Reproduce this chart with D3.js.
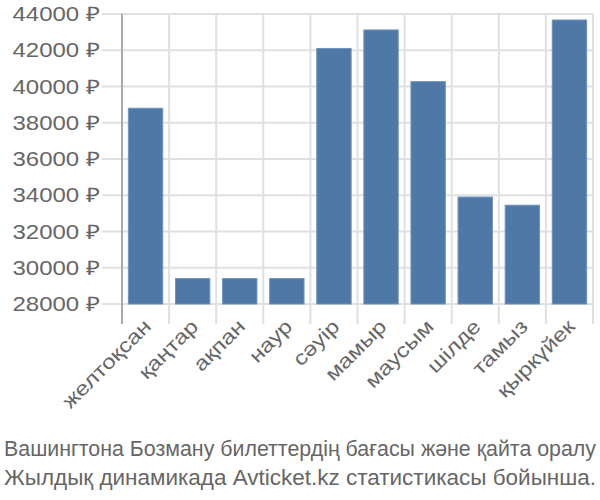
<!DOCTYPE html>
<html><head><meta charset="utf-8">
<script src="https://cdn.jsdelivr.net/npm/d3@7"></script>
<style>body{margin:0;background:#fff}svg{display:block}</style>
</head><body>
<svg id="c" width="600" height="500"></svg>
<script>
const categories = ["желтоқсан","қаңтар","ақпан","наур","сәуір","мамыр","маусым","шілде","тамыз","қыркүйек"];
const prices = [38800, 29400, 29400, 29400, 42100, 43120, 40270, 33900, 33450, 43670];
const yTicks = [28000, 30000, 32000, 34000, 36000, 38000, 40000, 42000, 44000];
const titleLines = ["Вашингтона Бозману билеттердің бағасы және қайта оралу", "Жылдық динамикада Avticket.kz статистикасы бойынша."];

(function () {
const svg = d3.select("#c");
const mLeft = 122, mRight = 593, mTop = 14, mBottom = 304;
const x = d3.scaleBand().domain(categories).range([mLeft, mRight]).padding(0);
const y = d3.scaleLinear().domain([28000, 44000]).range([mBottom, mTop]);

svg.append("g").selectAll("line").data(yTicks).join("line")
  .attr("x1", mLeft - 20).attr("x2", mRight)
  .attr("y1", d => y(d)).attr("y2", d => y(d))
  .attr("stroke", "#e0e0e0").attr("stroke-width", 2);

const edges = categories.map(c => x(c)).concat([mRight]);
svg.append("g").selectAll("line").data(edges.slice(1)).join("line")
  .attr("x1", d => d).attr("x2", d => d)
  .attr("y1", mTop).attr("y2", mBottom + 20)
  .attr("stroke", "#e0e0e0").attr("stroke-width", 2);

svg.append("line").attr("x1", mLeft).attr("x2", mLeft).attr("y1", mTop).attr("y2", mBottom + 20)
  .attr("stroke", "#aaa").attr("stroke-width", 2);

const inset = x.bandwidth() * 0.135;
svg.append("g").selectAll("rect").data(categories).join("rect")
  .attr("x", (d) => x(d) + inset)
  .attr("width", x.bandwidth() - 2 * inset)
  .attr("y", (d, i) => y(prices[i]))
  .attr("height", (d, i) => mBottom - y(prices[i]))
  .attr("fill", "#4e79a7").attr("stroke", "#6f93bd").attr("stroke-width", 1);

svg.append("g").selectAll("text").data(yTicks).join("text")
  .attr("transform", d => `translate(100,${y(d)}) scale(1.2,1)`)
  .attr("dy", "0.35em")
  .attr("text-anchor", "end")
  .attr("font-family", "Liberation Sans, Arial, sans-serif").attr("font-size", 20)
  .attr("fill", "#666")
  .text(d => d + " ₽");

svg.append("g").selectAll("text").data(categories).join("text")
  .attr("transform", d => `translate(${x(d) + x.bandwidth() / 2 + 6},${mBottom + 23}) rotate(-45) scale(1.2,1)`)
  .attr("text-anchor", "end").attr("dy", "0.05em")
  .attr("font-family", "Liberation Sans, Arial, sans-serif").attr("font-size", 20)
  .attr("fill", "#666")
  .text(d => d);

svg.append("g").selectAll("text").data(titleLines).join("text")
  .attr("x", 300).attr("y", (d, i) => 456 + i * 29)
  .attr("text-anchor", "middle")
  .attr("textLength", 592).attr("lengthAdjust", "spacingAndGlyphs")
  .attr("font-family", "Liberation Sans Narrow, Arial Narrow, sans-serif").attr("font-size", 21.5)
  .attr("fill", "#666")
  .text(d => d);
})();
</script>
</body></html>
